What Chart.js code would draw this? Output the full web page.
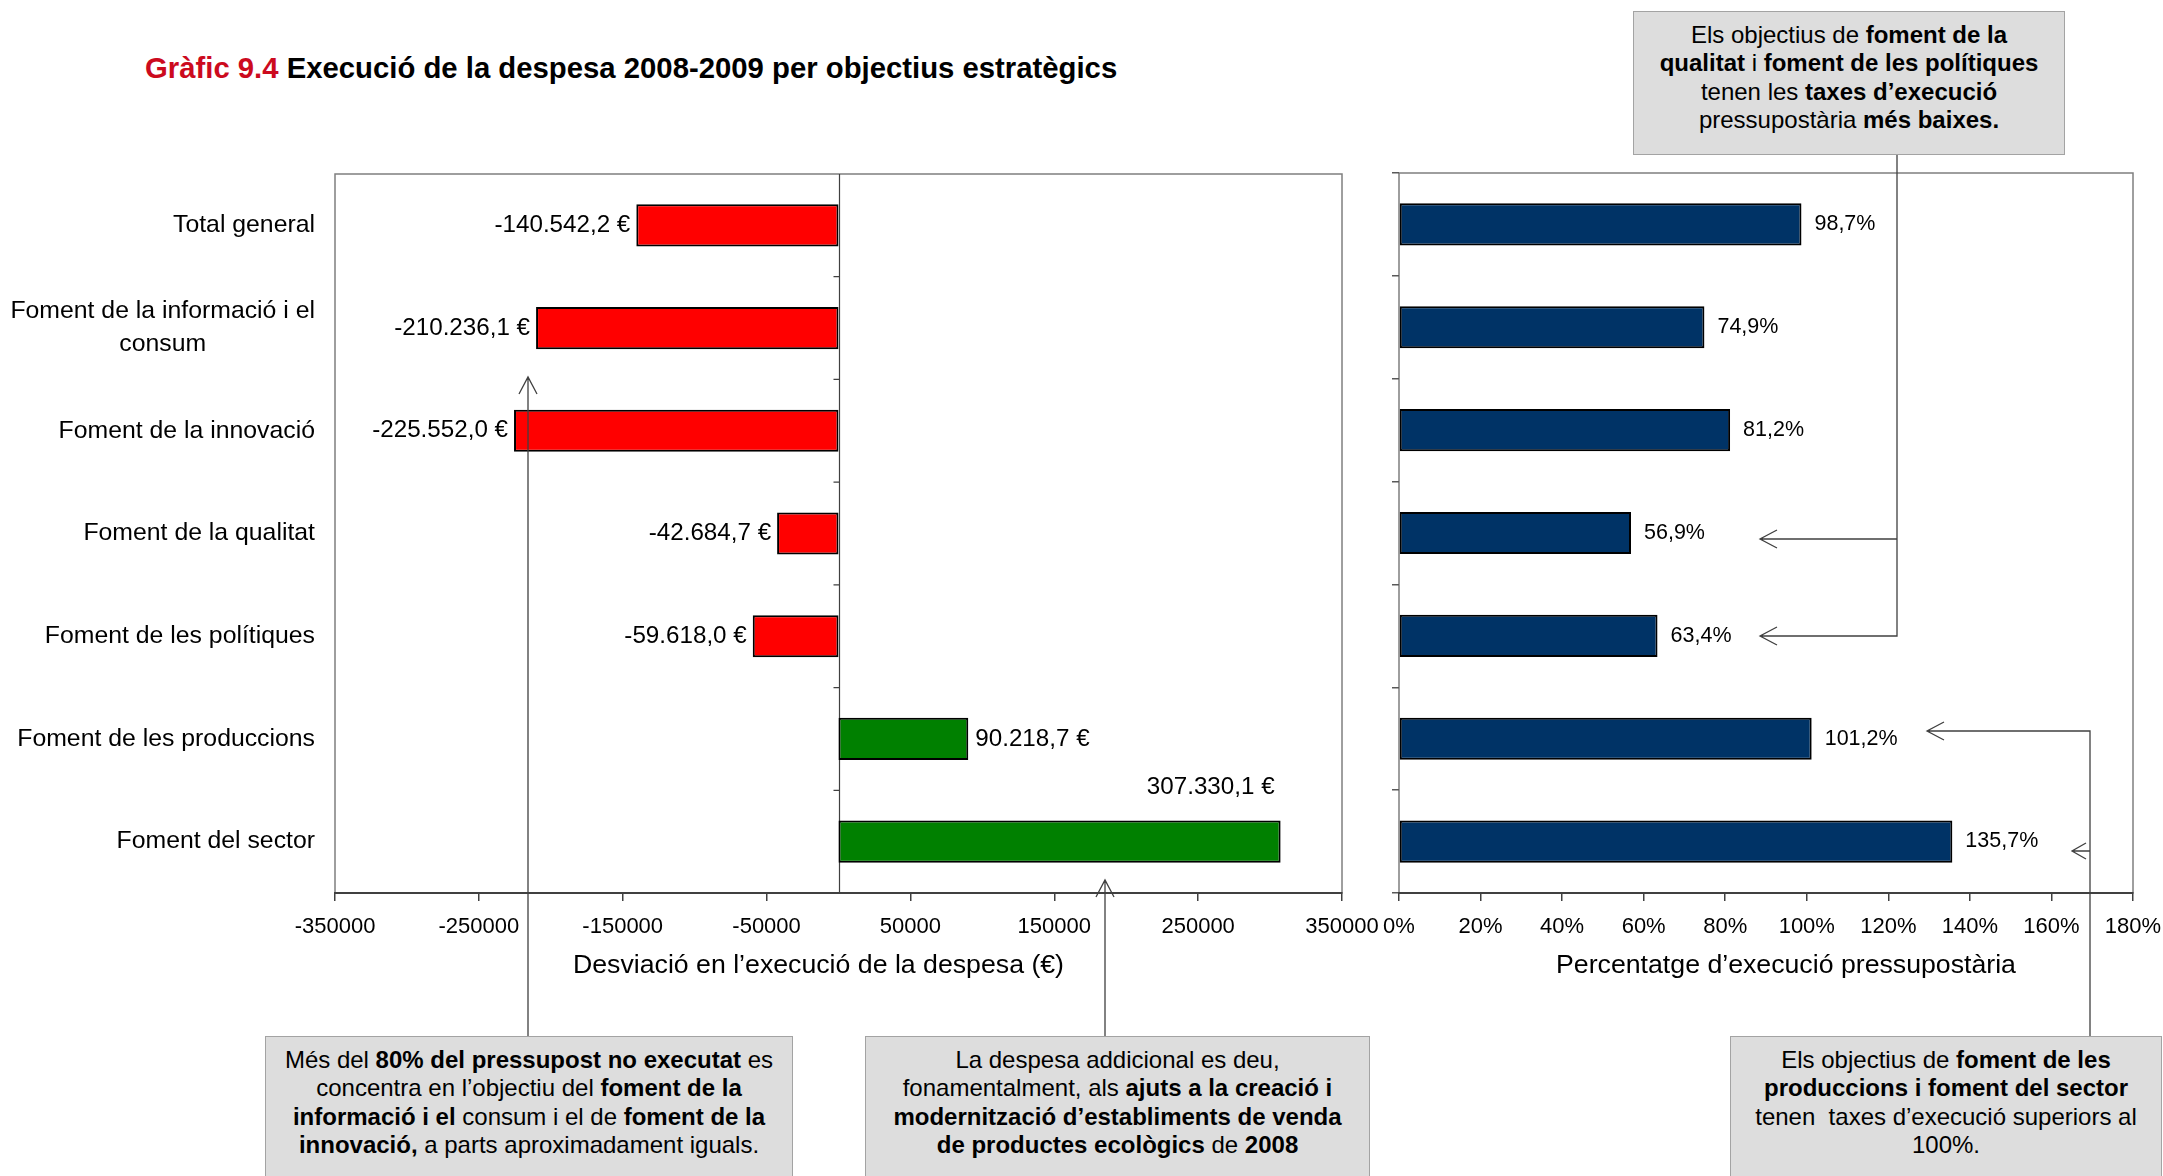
<!DOCTYPE html>
<html>
<head>
<meta charset="utf-8">
<title>Gràfic 9.4</title>
<script src="https://cdn.jsdelivr.net/npm/chart.js@4.4.1/dist/chart.umd.min.js"></script>
<style>
  html, body { margin: 0; padding: 0; background: #fff; }
  #page { position: relative; width: 2163px; height: 1176px; overflow: hidden; font-family: "Liberation Sans", Arial, sans-serif; }
  #page canvas { position: absolute; left: 0; top: 0; }
  #page svg { position: absolute; left: 0; top: 0; }
  .title { position: absolute; left: 145px; top: 51px; font-size: 29.3px; font-weight: bold; line-height: 34px; white-space: nowrap; }
  .title span { color: #cc0a1e; }
  .note { position: absolute; box-sizing: border-box; background: #dddddd; border: 1.5px solid #a3a3a3;
          font-size: 24px; line-height: 28.3px; text-align: center; padding-top: 9px; white-space: nowrap; color: #000; }
</style>
</head>
<body>
<div id="page">
  <div class="title"><span>Gràfic 9.4</span> Execució de la despesa 2008-2009 per objectius estratègics</div>

  <canvas id="deviationChart" width="2163" height="1176"></canvas>
  <canvas id="executionChart" width="2163" height="1176"></canvas>

  <svg width="2163" height="1176" fill="none" stroke="#404040" stroke-width="1.3">
    <path d="M528 1036V377M519 394L528 377L537 394"/>
    <path d="M1105 1036V880M1096 897L1105 880L1114 897"/>
    <path d="M1897 155V636H1760M1897 539H1760M1777 530L1760 539L1777 548M1777 627L1760 636L1777 645"/>
    <path d="M2090 1036V731H1927M1944 722L1927 731L1944 740M2090 851H2072M2086 843L2072 851L2086 859"/>
  </svg>

  <div class="note" style="left:1633px; top:11px; width:432px; height:144px;">
    Els objectius de <b>foment de la</b><br>
    <b>qualitat</b> i <b>foment de les polítiques</b><br>
    tenen les <b>taxes d’execució</b><br>
    pressupostària <b>més baixes.</b>
  </div>
  <div class="note" style="left:265px; top:1036px; width:528px; height:170px;">
    Més del <b>80% del pressupost no executat</b> es<br>
    concentra en l’objectiu del <b>foment de la</b><br>
    <b>informació i el</b> consum i el de <b>foment de la</b><br>
    <b>innovació,</b> a parts aproximadament iguals.
  </div>
  <div class="note" style="left:865px; top:1036px; width:505px; height:170px;">
    La despesa addicional es deu,<br>
    fonamentalment, als <b>ajuts a la creació i</b><br>
    <b>modernització d’establiments de venda</b><br>
    <b>de productes ecològics</b> de <b>2008</b>
  </div>
  <div class="note" style="left:1730px; top:1036px; width:432px; height:170px;">
    Els objectius de <b>foment de les</b><br>
    <b>produccions i foment del sector</b><br>
    tenen &nbsp;taxes d’execució superiors al<br>
    100%.
  </div>
</div>

<script>
const categories = [
    "Total general",
    ["Foment de la informació i el", "consum"],
    "Foment de la innovació",
    "Foment de la qualitat",
    "Foment de les polítiques",
    "Foment de les produccions",
    "Foment del sector"
];
const deviation = [-140542.2, -210236.1, -225552.0, -42684.7, -59618.0, 90218.7, 307330.1];
const execution = [98.7, 74.9, 81.2, 56.9, 63.4, 101.2, 135.7];
const deviationTicks = [-350000, -250000, -150000, -50000, 50000, 150000, 250000, 350000];
const executionTicks = [0, 20, 40, 60, 80, 100, 120, 140, 160, 180];

const FONT = '"Liberation Sans", Arial, sans-serif';
Chart.defaults.font.family = FONT;
Chart.defaults.color = "#000";

function euro(v) {
    const parts = Math.abs(v).toFixed(1).split(".");
    const whole = parts[0].replace(/\B(?=(\d{3})+(?!\d))/g, ".");
    return (v < 0 ? "-" : "") + whole + "," + parts[1] + " €";
}

function pct(v) {
    return v.toFixed(1).replace(".", ",") + "%";
}

// grey box round the plot area
const frame = {
    id: "frame",
    beforeDraw(chart) {
        const { ctx, chartArea: a } = chart;
        ctx.save();
        ctx.strokeStyle = "#7f7f7f";
        ctx.lineWidth = 1.5;
        ctx.strokeRect(a.left, a.top, a.right - a.left, a.bottom - a.top);
        ctx.restore();
    }
};

// axis title under the tick labels, a little off centre like the original
function axisTitle(text, dx) {
    return {
        id: "axisTitle",
        afterDraw(chart) {
            const { ctx, chartArea: a } = chart;
            ctx.save();
            ctx.font = "26.7px " + FONT;
            ctx.fillStyle = "#000";
            ctx.textAlign = "center";
            ctx.textBaseline = "middle";
            ctx.fillText(text, (a.left + a.right) / 2 + dx, a.bottom + 73);
            ctx.restore();
        }
    };
}

// zero axis, category names and euro labels of the left chart
const deviationDecor = {
    id: "deviationDecor",
    beforeDatasetsDraw(chart) {
        const { ctx, chartArea: a, scales: { x } } = chart;
        const x0 = Math.round(x.getPixelForValue(0)) + 0.5;
        const step = (a.bottom - a.top) / categories.length;
        ctx.save();
        ctx.strokeStyle = "#404040";
        ctx.lineWidth = 1.2;
        ctx.beginPath();
        ctx.moveTo(x0, a.top);
        ctx.lineTo(x0, a.bottom);
        for (let i = 1; i < categories.length; i++) {
            const yy = a.top + i * step;
            ctx.moveTo(x0 - 6, yy);
            ctx.lineTo(x0, yy);
        }
        ctx.stroke();
        ctx.restore();
    },
    afterDraw(chart) {
        const { ctx, chartArea: a, scales: { y } } = chart;
        ctx.save();
        ctx.fillStyle = "#000";
        ctx.textBaseline = "middle";

        ctx.font = "24.8px " + FONT;
        categories.forEach((label, i) => {
            const yc = y.getPixelForValue(i);
            const lines = Array.isArray(label) ? label : [label];
            const widest = Math.max(...lines.map(l => ctx.measureText(l).width));
            const cx = a.left - 20 - widest / 2;
            ctx.textAlign = "center";
            lines.forEach((line, k) => {
                ctx.fillText(line, cx, yc + (k - (lines.length - 1) / 2) * 33);
            });
        });

        ctx.font = "24.2px " + FONT;
        chart.getDatasetMeta(0).data.forEach((bar, i) => {
            const text = euro(deviation[i]);
            const w = ctx.measureText(text).width;
            if (deviation[i] < 0) {
                ctx.textAlign = "right";
                ctx.fillText(text, bar.x - 6, bar.y);
            } else if (bar.x + 6 + w <= a.right) {
                ctx.textAlign = "left";
                ctx.fillText(text, bar.x + 7, bar.y);
            } else {
                // no room inside the plot: put it above the bar
                ctx.textAlign = "right";
                ctx.fillText(text, bar.x - 6, bar.y - bar.height * 1.3);
            }
        });
        ctx.restore();
    }
};

const executionLabels = {
    id: "executionLabels",
    afterDatasetsDraw(chart) {
        const { ctx } = chart;
        ctx.save();
        ctx.fillStyle = "#000";
        ctx.textBaseline = "middle";
        ctx.textAlign = "left";
        ctx.font = "21.5px " + FONT;
        chart.getDatasetMeta(0).data.forEach((bar, i) => {
            ctx.fillText(pct(execution[i]), bar.x + 13, bar.y);
        });
        ctx.restore();
    }
};

function bottomAxis(ticks, min, max, fmt) {
    return {
        min: min,
        max: max,
        afterBuildTicks: s => { s.ticks = ticks.map(v => ({ value: v })); },
        afterFit: s => { s.height = 89; s.paddingLeft = 0; s.paddingRight = 0; },
        grid: { drawOnChartArea: false, drawTicks: true, tickLength: 8, color: "#404040", lineWidth: 1.5 },
        border: { color: "#404040", width: 2 },
        ticks: { font: { size: 22 }, color: "#000", padding: 13, maxRotation: 0, autoSkip: false, callback: fmt }
    };
}

new Chart(document.getElementById("deviationChart"), {
    type: "bar",
    data: {
        labels: categories,
        datasets: [{
            data: deviation,
            backgroundColor: deviation.map(v => v < 0 ? "#ff0000" : "#008000"),
            borderColor: "#000",
            borderWidth: 2,
            borderSkipped: false,
            categoryPercentage: 1,
            barPercentage: 0.41
        }]
    },
    options: {
        indexAxis: "y",
        responsive: false,
        animation: false,
        events: [],
        layout: { padding: { left: 0, right: 821, top: 174, bottom: 194 } },
        plugins: { legend: { display: false }, tooltip: { enabled: false } },
        scales: {
            x: bottomAxis(deviationTicks, -350000, 350000, v => String(v)),
            y: {
                afterFit: s => { s.width = 335; },
                grid: { display: false },
                border: { display: false },
                ticks: { display: false }
            }
        }
    },
    plugins: [frame, deviationDecor, axisTitle("Desviació en l’execució de la despesa (€)", -20)]
});

new Chart(document.getElementById("executionChart"), {
    type: "bar",
    data: {
        labels: categories,
        datasets: [{
            data: execution,
            backgroundColor: "#003366",
            borderColor: "#000",
            borderWidth: 2,
            borderSkipped: false,
            categoryPercentage: 1,
            barPercentage: 0.41
        }]
    },
    options: {
        indexAxis: "y",
        responsive: false,
        animation: false,
        events: [],
        layout: { padding: { left: 0, right: 30, top: 173, bottom: 194 } },
        plugins: { legend: { display: false }, tooltip: { enabled: false } },
        scales: {
            x: bottomAxis(executionTicks, 0, 180, v => v + "%"),
            y: {
                afterFit: s => { s.width = 1399; },
                grid: { drawOnChartArea: false, drawTicks: true, tickLength: 7, color: "#595959", lineWidth: 1.5 },
                border: { display: false },
                ticks: { display: false }
            }
        }
    },
    plugins: [frame, executionLabels, axisTitle("Percentatge d’execució pressupostària", 20)]
});
</script>
</body>
</html>
